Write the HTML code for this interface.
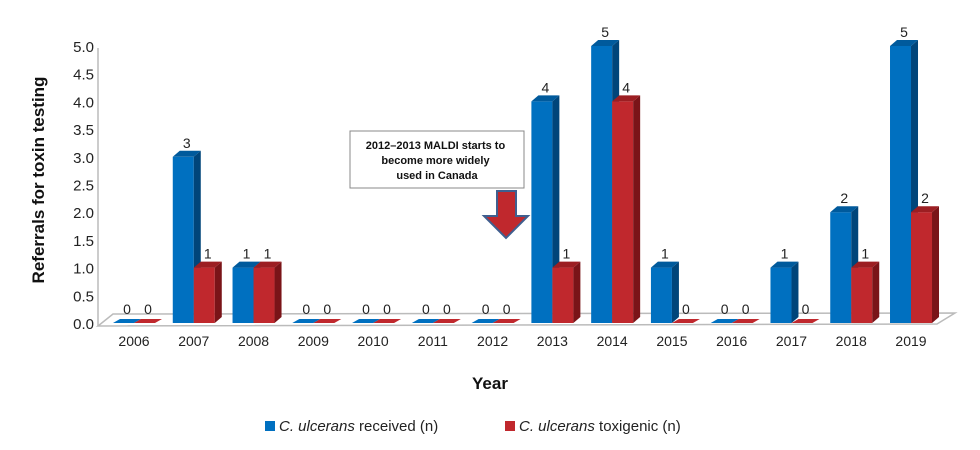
<!DOCTYPE html>
<html><head><meta charset="utf-8">
<style>
body{margin:0;background:#fff;}
svg{display:block;font-family:"Liberation Sans",sans-serif;}
</style></head>
<body>
<svg id="chart" width="980" height="450" viewBox="0 0 980 450">
  <g id="grid">
    <polygon points="98,326 113,314 955,313 937,324" fill="#fff" stroke="#bbb" stroke-width="1.5"/>
    <line x1="98" y1="48" x2="98" y2="326" stroke="#bbb" stroke-width="1.5"/>
  </g>
  <g id="yticks"></g>
  <g id="xticks"></g>
  <g id="bars"></g>
  <g id="vals"></g>
  <text x="44" y="180" transform="rotate(-90 44 180)" text-anchor="middle" font-size="17" font-weight="bold" fill="#111">Referrals for toxin testing</text>
  <text x="490" y="389" text-anchor="middle" font-size="17" font-weight="bold" fill="#111">Year</text>
  <g>
    <rect x="350" y="131" width="174" height="57" fill="#fff" stroke="#888" stroke-width="1"/>
    <text text-anchor="middle" font-size="11" font-weight="bold" fill="#111">
      <tspan x="437" y="149">2012–2013 MALDI starts to</tspan>
      <tspan x="437" y="164">become more widely</tspan>
      <tspan x="437" y="179">used in Canada</tspan>
    </text>
    <polygon points="497,191 516,191 516,216 528,216 506,238 484,216 497,216" fill="#c0282d" stroke="#3f5f8f" stroke-width="2"/>
  </g>
  <g>
    <rect x="265" y="421" width="10" height="10" fill="#0070c0"/>
    <text x="279" y="431" font-size="15" fill="#222"><tspan font-style="italic">C. ulcerans</tspan> received (n)</text>
    <rect x="505" y="421" width="10" height="10" fill="#c0282d"/>
    <text x="519" y="431" font-size="15" fill="#222"><tspan font-style="italic">C. ulcerans</tspan> toxigenic (n)</text>
  </g>
</svg>
<script>
const categories = ["2006","2007","2008","2009","2010","2011","2012","2013","2014","2015","2016","2017","2018","2019"];
const received = [0,3,1,0,0,0,0,4,5,1,0,1,2,5];
const toxigenic = [0,1,1,0,0,0,0,1,4,0,0,0,1,2];
const yTicks = ["0.0","0.5","1.0","1.5","2.0","2.5","3.0","3.5","4.0","4.5","5.0"];

const NS = "http://www.w3.org/2000/svg";
const y0 = 323, pxPerUnit = 55.4;
const yScale = v => y0 - v * pxPerUnit;
const x0 = 134, step = 59.77;
const xScale = i => x0 + i * step;
const bw = 21, dx = 7, dy = 6;

function mk(tag, attrs, parent){
  const e = document.createElementNS(NS, tag);
  for (const k in attrs) e.setAttribute(k, attrs[k]);
  parent.appendChild(e);
  return e;
}
const yt = document.getElementById('yticks');
yTicks.forEach(t => {
  const e = mk('text', {x: 94, y: yScale(parseFloat(t)) + 6, 'text-anchor':'end', 'font-size':15, fill:'#222'}, yt);
  
  
  e.textContent = t;
});
const xt = document.getElementById('xticks');
categories.forEach((c, i) => {
  const e = mk('text', {x: xScale(i), y: 346, 'text-anchor':'middle', 'font-size':14, fill:'#222'}, xt);
  
  
  e.textContent = c;
});
const bars = document.getElementById('bars');
const vals = document.getElementById('vals');
function bar3d(xl, v, front, side, top, name){
  const g = mk('g', {}, bars);
  
  
  const yt = yScale(v);
  if (v === 0) {
    mk('polygon', {points:`${xl},${y0} ${xl+bw},${y0} ${xl+bw+dx},${y0-dy+2} ${xl+dx},${y0-dy+2}`, fill:front}, g);
    return yt;
  }
  mk('rect', {x:xl, y:yt, width:bw, height:y0-yt, fill:front}, g);
  mk('polygon', {points:`${xl+bw},${yt} ${xl+bw+dx},${yt-dy} ${xl+bw+dx},${y0-dy} ${xl+bw},${y0}`, fill:side}, g);
  mk('polygon', {points:`${xl},${yt} ${xl+dx},${yt-dy} ${xl+bw+dx},${yt-dy} ${xl+bw},${yt}`, fill:top}, g);
  return yt;
}
categories.forEach((c, i) => {
  const cx = xScale(i);
  const yb = bar3d(cx - bw, received[i], '#0070c0', '#00457a', '#005a9c', 'bar-received-' + c);
  const yr = bar3d(cx, toxigenic[i], '#c0282d', '#7a1418', '#9c1e22', 'bar-toxigenic-' + c);
  const lb = mk('text', {x: cx - bw/2 + dx/2, y: yb - dy - 3, 'text-anchor':'middle', 'font-size':14, fill:'#222'}, vals);
  
  
  lb.textContent = received[i];
  const lr = mk('text', {x: cx + bw/2 + dx/2, y: yr - dy - 3, 'text-anchor':'middle', 'font-size':14, fill:'#222'}, vals);
  
  
  lr.textContent = toxigenic[i];
});
</script>
</body></html>
